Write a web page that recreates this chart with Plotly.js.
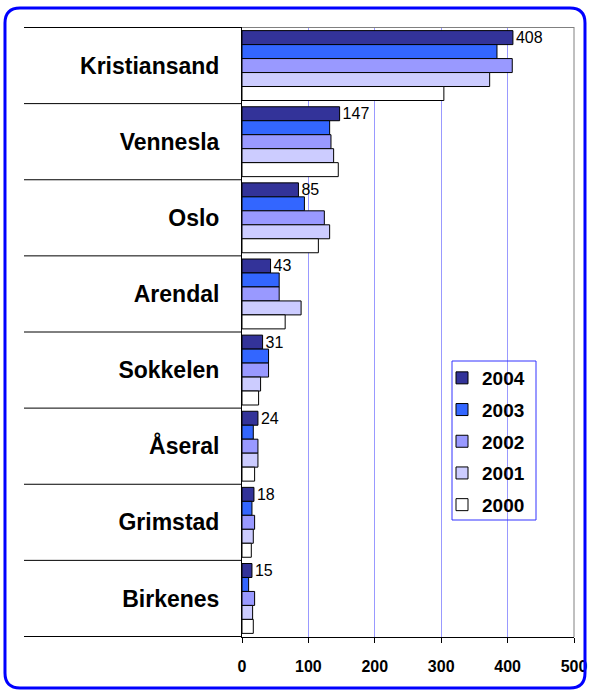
<!DOCTYPE html>
<html>
<head>
<meta charset="utf-8">
<script src="https://cdn.plot.ly/plotly-3.0.1.min.js"></script>
<style>html,body{margin:0;padding:0;background:#fff;}#chart{width:590px;height:690px;}</style>
</head>
<body>
<div id="chart"></div>
<script>
const categories = ["Kristiansand","Vennesla","Oslo","Arendal","Sokkelen","Åseral","Grimstad","Birkenes"];
const years = ["2004","2003","2002","2001","2000"];
const v2004 = [408,147,85,43,31,24,18,15];
const v2003 = [384,132,94,56,40,17,15,10];
const v2002 = [407,134,124,56,40,24,19,19];
const v2001 = [373,138,132,89,28,24,17,16];
const v2000 = [304,145,115,65,25,19,14,17];
const seriesValues = [v2004,v2003,v2002,v2001,v2000];
const colors = ["#333399","#3366FF","#9999FF","#CCCCFF","#FFFFFF"];
const xTicks = [0,100,200,300,400,500];

const FONT = "Liberation Sans, Arial, sans-serif";

const traces = years.map((y,i)=>({
  type:"bar",
  orientation:"h",
  name:y,
  legendgroup:y,
  y:categories,
  x:seriesValues[i],
  marker:{color:colors[i], line:{color:"#000", width:1}},
  text: i===0 ? seriesValues[i].map(String) : undefined,
  textposition: i===0 ? "outside" : "none",
  constraintext:"none",
  outsidetextfont:{family:FONT, size:16, color:"#000"},
  cliponaxis:false,
  hoverinfo:"x+y+name"
}));

const XL = -0.6566; // left end of category separators (paper)
const shapes = [];
for (let k=0;k<categories.length-1;k++){
  shapes.push({type:"line", xref:"paper", yref:"y", x0:XL, x1:0, y0:k+0.5, y1:k+0.5, line:{color:"#000", width:1}});
}
shapes.push({type:"line", xref:"paper", yref:"y", x0:XL, x1:0, y0:-0.5, y1:-0.5, line:{color:"#000", width:1}});
shapes.push({type:"line", xref:"paper", yref:"y", x0:0, x1:1, y0:-0.5, y1:-0.5, line:{color:"#808080", width:1}});
shapes.push({type:"line", xref:"paper", yref:"paper", x0:1, x1:1, y0:0, y1:1, line:{color:"#808080", width:1}});
shapes.push({type:"line", xref:"paper", yref:"y", x0:XL, x1:0, y0:categories.length-0.5, y1:categories.length-0.5, line:{color:"#000", width:1}});

// outer rounded border
const xl=-0.7139, xr=1.0331, yt=1.0311, yb=-0.0836, rx=0.0452, ry=0.0246;
const p = `M${xl+rx},${yt} L${xr-rx},${yt} Q${xr},${yt} ${xr},${yt-ry} L${xr},${yb+ry} Q${xr},${yb} ${xr-rx},${yb} L${xl+rx},${yb} Q${xl},${yb} ${xl},${yb+ry} L${xl},${yt-ry} Q${xl},${yt} ${xl+rx},${yt} Z`;
shapes.push({type:"path", xref:"paper", yref:"paper", path:p, line:{color:"#0000FF", width:3}});

// legend box
const lbx0 = (452-242)/332, lbx1 = (536-242)/332, lby0 = (637-520)/610, lby1 = (637-361)/610;
shapes.push({type:"rect", xref:"paper", yref:"paper", x0:lbx0, x1:lbx1, y0:lby0, y1:lby1, line:{color:"#3333FF", width:1}, fillcolor:"rgba(0,0,0,0)"});

const layout = {
  width:590, height:690,
  margin:{l:242, r:16, t:27, b:53},
  paper_bgcolor:"#fff", plot_bgcolor:"#fff",
  font:{family:FONT, color:"#000"},
  barmode:"group", bargap:0.082, bargroupgap:0,
  showlegend:true,
  legend:{
    x:(442-242)/332, y:(637-359)/610, xanchor:"left", yanchor:"top",
    bgcolor:"rgba(0,0,0,0)", borderwidth:0,
    font:{family:FONT, size:19, weight:"bold", color:"#000"},
    traceorder:"grouped", tracegroupgap:4
  },
  xaxis:{
    range:[0,500], tickvals:xTicks, ticktext:xTicks.map(String),
    showgrid:true, gridcolor:"#9999FF", gridwidth:1,
    zeroline:false, showline:true, linecolor:"#000", linewidth:1,
    ticks:"outside", ticklen:5, tickcolor:"#000",
    ticklabelstandoff:10,
    tickfont:{family:FONT, size:16, weight:"bold", color:"#000"},
    fixedrange:true
  },
  yaxis:{
    type:"category", autorange:"reversed",
    showgrid:false, zeroline:false, showline:true, linecolor:"#000", linewidth:1,
    ticks:"", ticklabelstandoff:17,
    tickfont:{family:FONT, size:23, weight:"bold", color:"#000"},
    fixedrange:true
  },
  shapes:shapes
};

Plotly.newPlot("chart", traces, layout, {displayModeBar:false, staticPlot:true});
</script>
</body>
</html>
